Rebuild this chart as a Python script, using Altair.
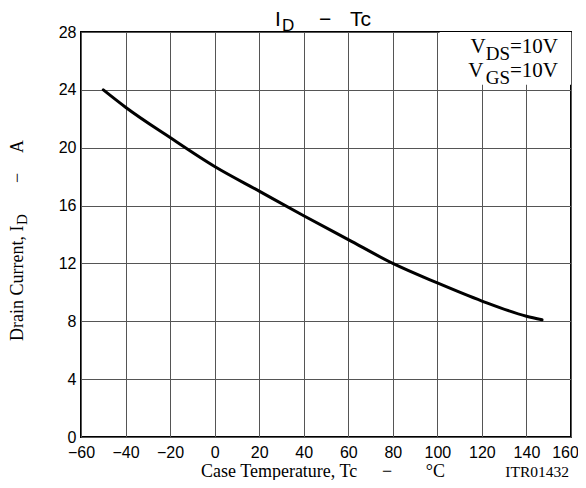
import altair as alt
import pandas as pd

# ---- data ----
temps = [-50, -40, -20, 0, 20, 40, 60, 80, 100, 120, 140, 147]
currents = [24.0, 22.8, 20.7, 18.7, 17.0, 15.3, 13.65, 12.0, 10.65, 9.4, 8.35, 8.1]

x_ticks = [-60, -40, -20, 0, 20, 40, 60, 80, 100, 120, 140, 160]
y_ticks = [0, 4, 8, 12, 16, 20, 24, 28]

# white area behind the test-condition text (data units)
cond_box_x = [101, 160]
cond_box_y = [24.35, 28]

# text pieces
title_main = ["I", "Tc"]
title_sub = ["D"]
title_dash = ["\u2212"]
xtitle_parts = ["Case Temperature, Tc", "\u2212", "\u00b0C"]
ytitle_parts = ["Drain Current, I", "D", "\u2212", "A"]
cond_main = ["V", "=10V"]
cond_sub = ["DS", "GS"]
code_label = ["ITR01432"]

SERIF = "Liberation Serif"
SANS = "Liberation Sans"

W, H = 490, 405

df = pd.DataFrame({"Tc": temps, "ID": currents})
box_df = pd.DataFrame({"x1": [cond_box_x[0]], "x2": [cond_box_x[1]],
                       "y1": [cond_box_y[0]], "y2": [cond_box_y[1]]})

x_scale = alt.Scale(domain=[x_ticks[0], x_ticks[-1]], nice=False, zero=False)
y_scale = alt.Scale(domain=[y_ticks[0], y_ticks[-1]], nice=False)

curve = alt.Chart(df).mark_line(
    color="black", strokeWidth=3, interpolate="monotone", strokeCap="round"
).encode(
    x=alt.X("Tc:Q", scale=x_scale, axis=alt.Axis(
        values=x_ticks, title=None, grid=True, gridColor="#555555", gridWidth=1,
        domain=False, ticks=False, labelFont=SANS, labelFontSize=16, labelColor="black",
        labelPadding=7, labelFlush=False, labelOverlap=False,
        labelOffset={"condition": {"test": "datum.value == 160", "value": -6}, "value": 0},
        labelExpr="datum.value < 0 ? '\u2212' + abs(datum.value) : '' + datum.value",
    )),
    y=alt.Y("ID:Q", scale=y_scale, axis=alt.Axis(
        values=y_ticks, title=None, grid=True, gridColor="#555555", gridWidth=1,
        domain=False, ticks=False, labelFont=SANS, labelFontSize=16, labelColor="black",
        labelPadding=5, labelFlush=False, labelOverlap=False,
    )),
)

box = alt.Chart(box_df).mark_rect(color="white").encode(
    x=alt.X("x1:Q", scale=x_scale), x2="x2:Q",
    y=alt.Y("y1:Q", scale=y_scale), y2="y2:Q",
)


def txt(text, x, y, font, size, align="left", angle=0):
    kw = dict(font=font, fontSize=size, align=align, baseline="alphabetic", color="black")
    if angle:
        kw["angle"] = angle
    return alt.Chart(pd.DataFrame({"t": [text]})).mark_text(**kw).encode(
        x=alt.value(x), y=alt.value(y), text="t:N"
    )


layers = [curve, box]
# chart title  I_D − Tc
layers.append(txt(title_main[0], 194, -6.5, SANS, 21))
layers.append(txt(title_sub[0], 201, -1.5, SANS, 17))
layers.append(txt(title_dash[0], 244, -6.5, SANS, 21, align="center"))
layers.append(txt(title_main[1], 269, -6.5, SANS, 21))

# conditions text
layers.append(txt(cond_main[1], 477, 21, SERIF, 21, align="right"))
layers.append(txt(cond_sub[0], 429, 28, SERIF, 19, align="right"))
layers.append(txt(cond_main[0], 404.7, 21, SERIF, 21, align="right"))
layers.append(txt(cond_main[1], 477, 45, SERIF, 21, align="right"))
layers.append(txt(cond_sub[1], 429, 51.5, SERIF, 19, align="right"))
layers.append(txt(cond_main[0], 402.5, 45, SERIF, 21, align="right"))

# x axis title
layers.append(txt(xtitle_parts[0], 120, 444.5, SERIF, 18))
layers.append(txt(xtitle_parts[1], 306, 444.5, SERIF, 18, align="center"))
layers.append(txt(xtitle_parts[2], 364, 444.5, SERIF, 18, align="right"))
# code label
layers.append(txt(code_label[0], 488, 444.5, SERIF, 15.5, align="right"))

# y axis title (rotated)
layers.append(txt(ytitle_parts[0], -58, 309, SERIF, 18, angle=270))
layers.append(txt(ytitle_parts[1], -54, 193, SERIF, 15, angle=270))
layers.append(txt(ytitle_parts[2], -58, 146, SERIF, 18, align="center", angle=270))
layers.append(txt(ytitle_parts[3], -58, 121, SERIF, 18, angle=270))

chart = alt.layer(*layers).properties(
    width=W, height=H,
    autosize=alt.AutoSizeParams(type="none"),
    padding={"left": 73, "top": 24, "right": 7, "bottom": 43},
).configure_view(
    stroke="black", strokeWidth=2
)

chart.save("out.html", embed_options={"renderer": "svg", "actions": False})
